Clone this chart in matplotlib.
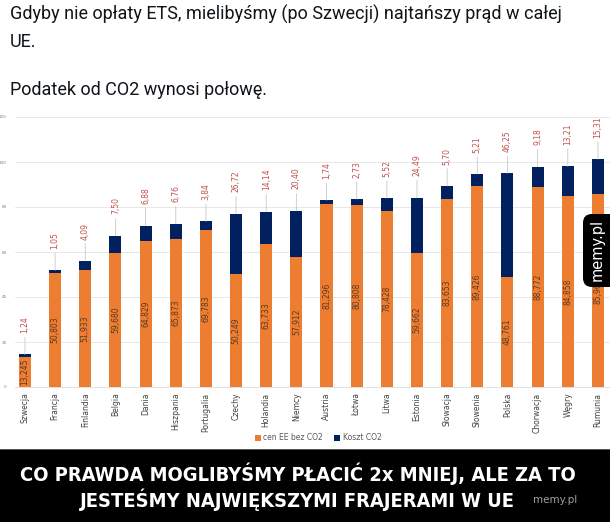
import numpy as np
import matplotlib.pyplot as plt
from matplotlib import font_manager
from matplotlib.patches import FancyBboxPatch
from matplotlib.transforms import IdentityTransform

countries = ["Szwecja", "Francja", "Finlandia", "Belgia", "Dania", "Hiszpania", "Portugalia",
             "Czechy", "Holandia", "Niemcy", "Austria", "Łotwa", "Litwa", "Estonia",
             "Słowacja", "Słowenia", "Polska", "Chorwacja", "Węgry", "Rumunia"]
base_price = [13.245, 50.803, 51.933, 59.680, 64.829, 65.873, 69.783, 50.249, 63.733, 57.912,
              81.296, 80.808, 78.428, 59.662, 83.653, 89.426, 48.761, 88.772, 84.858, 85.960]
co2_cost = [1.24, 1.05, 4.09, 7.50, 6.88, 6.76, 3.84, 26.72, 14.14, 20.40,
            1.74, 2.73, 5.52, 24.49, 5.70, 5.21, 46.25, 9.18, 13.21, 15.31]
y_ticks = [0, 20, 40, 60, 80, 100, 120]

header_1 = "Gdyby nie opłaty ETS, mielibyśmy (po Szwecji) najtańszy prąd w całej\nUE."
header_2 = "Podatek od CO2 wynosi połowę."
caption_1 = "CO PRAWDA MOGLIBYŚMY PŁACIĆ 2x MNIEJ, ALE ZA TO"
caption_2 = "JESTEŚMY NAJWIĘKSZYMI FRAJERAMI W UE"

orange = "#ed7d31"
navy = "#002060"

fig = plt.figure(figsize=(6.1, 5.22), dpi=100)
W, H = 610, 522

# tweet text
fig.text(10 / W, 1 - 5 / H, header_1, family="Roboto", fontsize=13, va="top",
         ha="left", color="#0f1419", linespacing=1.6)
fig.text(10 / W, 1 - 81 / H, header_2, family="Roboto", fontsize=13, va="top",
         ha="left", color="#0f1419")

# chart
ax = fig.add_axes([15 / W, 1 - 387 / H, (610 - 15) / W, (387 - 117) / H])
x = np.arange(len(countries))
ax.bar(x, base_price, width=0.4, color=orange, label="cen EE bez CO2", zorder=2)
ax.bar(x, co2_cost, width=0.4, bottom=base_price, color=navy, label="Koszt CO2", zorder=2)

for i in range(len(countries)):
    ax.text(i, base_price[i] / 2, f"{base_price[i]:.3f}".replace(".", ","), rotation=90,
            ha="center", va="center", fontsize=5.5, color="#5a3a22", zorder=3)
    top = base_price[i] + co2_cost[i]
    ax.annotate(f"{co2_cost[i]:.2f}".replace(".", ","), xy=(i, top), xytext=(i, top + 9.5),
                rotation=90, ha="center", va="bottom", fontsize=5.5, color="#c0504d",
                arrowprops=dict(arrowstyle="-", color="#c8c8c8", lw=0.6, shrinkA=1, shrinkB=0))

ax.set_xlim(-0.33, 19.4)
ax.set_ylim(0, 120)
ax.set_yticks(y_ticks)
ax.set_xticks(x)
ax.set_xticklabels(countries, rotation=90, fontsize=5.5, color="#404040")
ax.tick_params(axis="y", labelsize=3, colors="#808080", length=0, pad=6)
ax.tick_params(axis="x", length=0, pad=4)
ax.grid(axis="y", color="#e4e4e4", lw=0.6, zorder=0)
for s in ax.spines.values():
    s.set_visible(False)
ax.spines["bottom"].set_visible(True)
ax.spines["bottom"].set_color("#d9d9d9")
ax.spines["bottom"].set_linewidth(0.6)

fig.legend(loc="center", bbox_to_anchor=(318 / W, 1 - 438 / H), ncol=2, frameon=False,
           fontsize=5.5, handlelength=0.8, handleheight=0.8, columnspacing=1.5,
           handletextpad=0.3, labelcolor="#595959")

# watermark tab on the right edge (pixel coords, dpi 100)
tab = FancyBboxPatch((583, H - 287), 45, 73, boxstyle="round,pad=0,rounding_size=9",
                     fc="black", ec="none", transform=IdentityTransform(), zorder=10)
fig.add_artist(tab)
fig.text(597 / W, 1 - 250 / H, "memy.pl", rotation=90, ha="center", va="center",
         fontsize=10.5, color="white", family="DejaVu Sans", zorder=11)

# bottom banner
fig.patches.append(plt.Rectangle((0, 0), 1, 72 / H, transform=fig.transFigure,
                                 fc="black", ec="none", zorder=5))
fig.patches.append(plt.Rectangle((0, 72 / H), 1, 1.5 / H, transform=fig.transFigure,
                                 fc="#555555", ec="none", zorder=5))

# narrow bold font if there is one, otherwise Roboto black
cond = font_manager.FontProperties(family="DejaVu Sans", stretch="condensed", weight="bold")
if "Condensed" in font_manager.findfont(cond):
    cap_font = dict(family="DejaVu Sans", stretch="condensed", weight="bold")
else:
    cap_font = dict(family="Roboto", weight="black")

t1 = fig.text(298 / W, 1 - 474 / H, caption_1, ha="center", va="center", color="white",
              fontsize=17, zorder=6, **cap_font)
t2 = fig.text(297 / W, 1 - 500 / H, caption_2, ha="center", va="center", color="white",
              fontsize=17, zorder=6, **cap_font)
# shrink to fit the reference line width
r = fig.canvas.get_renderer()
w = t1.get_window_extent(r).width
size = 17 * 557 / w
t1.set_fontsize(size)
t2.set_fontsize(size)

fig.text(555 / W, 1 - 500 / H, "memy.pl", ha="center", va="center", color="#a0a0a0",
         fontsize=7.5, zorder=6)

plt.savefig("out.png", dpi=100)
plt.close()
